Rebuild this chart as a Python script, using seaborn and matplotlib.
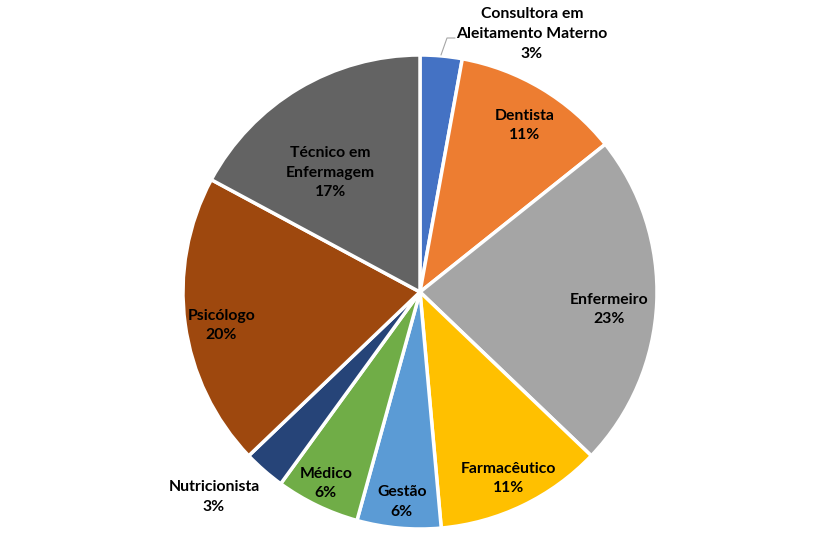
import numpy as np
import matplotlib
matplotlib.use("Agg")
import matplotlib.pyplot as plt
import seaborn as sns

categories = ["Consultora em\nAleitamento Materno", "Dentista", "Enfermeiro", "Farmacêutico",
              "Gestão", "Médico", "Nutricionista", "Psicólogo", "Técnico em\nEnfermagem"]
counts = [1, 4, 8, 4, 2, 2, 1, 7, 6]
percent_labels = ["3%", "11%", "23%", "11%", "6%", "6%", "3%", "20%", "17%"]

colors = ["#4472C4", "#ED7D31", "#A5A5A5", "#FFC000", "#5B9BD5",
          "#70AD47", "#264478", "#9E480E", "#636363"]

sns.set_theme(style="white")
plt.rcParams['font.family'] = ['Lato', 'DejaVu Sans']

fig = plt.figure(figsize=(8.4, 5.42), dpi=100)
ax = fig.add_axes([0, 0, 1, 1])
R = 237
wedges, _ = ax.pie(counts, colors=colors, startangle=90, counterclock=False,
                   radius=R, center=(0, 0),
                   wedgeprops=dict(edgecolor="white", linewidth=2.5))
ax.set_xlim(-420, 420)
ax.set_ylim(-250, 292)
ax.set_aspect("equal")
ax.axis("off")

FS = 11.3
LS = 1.5
# label placement: radius fraction and angle tweak (degrees) per slice
dist = [None, 0.83, 0.80, 0.87, 0.89, 0.90, None, 0.85, 0.63]
dang = [0, -1.3, -2.8, -0.4, 0.2, -0.5, 0, 1.8, 6.0]
for i, w in enumerate(wedges):
    mid = np.deg2rad((w.theta1 + w.theta2) / 2 + dang[i])
    txt = f"{categories[i]}\n{percent_labels[i]}"
    if dist[i] is None:
        continue
    x = dist[i] * R * np.cos(mid)
    y = dist[i] * R * np.sin(mid)
    ax.text(x, y, txt, ha="center", va="center", fontsize=FS,
            fontweight="bold", color="black", linespacing=LS)

# outside labels
ax.text(532 - 420, 292 - 34, f"{categories[0]}\n{percent_labels[0]}", ha="center",
        va="center", fontsize=FS, fontweight="bold", color="black", linespacing=LS)
ax.plot([441 - 420, 447 - 420, 455 - 420], [292 - 55, 292 - 38, 292 - 38],
        color="#A6A6A6", linewidth=0.8)
ax.text(214 - 420, 292 - 497, f"{categories[6]}\n{percent_labels[6]}", ha="center",
        va="center", fontsize=FS, fontweight="bold", color="black", linespacing=LS)

fig.savefig("out.png", dpi=100, facecolor="white")
